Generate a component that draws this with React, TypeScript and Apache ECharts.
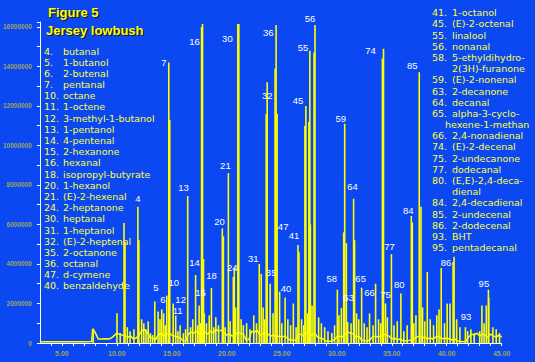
import React, { useEffect, useRef } from "react";
import * as echarts from "echarts";

// ---- data (intensities in millions of counts, times in minutes) ----
const peakTimes = [
  7.85, 10.01, 10.65, 10.74, 11.91, 12.0, 13.45, 14.08, 14.54, 14.72, 14.81, 15.12, 15.35,
  16.44, 17.16, 17.48, 17.7, 17.79, 17.88, 18.6, 19.59, 19.69, 20.14, 20.59, 20.68, 21.0, 21.09,
  22.95, 23.13, 23.58, 23.67, 23.94, 24.39, 24.48, 24.57, 24.8, 25.3, 26.47, 26.56,
  27.1, 27.19, 27.46, 27.55, 27.6, 27.93, 28.02, 30.05, 30.42, 30.63, 30.72, 30.87, 30.99,
  31.53, 31.62, 32.26, 33.53, 34.15, 34.25, 34.43, 34.97, 35.83, 36.78, 36.87, 37.5, 37.66,
  38.23, 39.5, 40.04, 40.58, 40.67, 41.7, 43.2, 43.79, 43.82,
];
const peakHeights = [
  0.7, 1.5, 6.08, 5.1, 6.9, 5.2, 2.1, 1.7, 2.4, 14.2, 11.3, 2.0, 1.4,
  7.44, 3.44, 1.9, 16.0, 16.15, 4.25, 2.78, 5.8, 5.4, 8.6, 3.34, 3.8, 16.15, 16.15,
  4.0, 3.5, 11.6, 13.2, 3.0, 13.9, 16.1, 11.6, 2.6, 2.3, 4.96, 4.6,
  11.0, 12.0, 11.2, 14.8, 6.0, 14.7, 16.1, 2.7, 1.77, 5.6, 11.1, 5.06, 1.06,
  7.3, 5.2, 2.8, 3.0, 14.4, 14.9, 2.0, 4.5, 2.5, 6.43, 6.1, 13.7, 6.9,
  3.6, 3.8, 2.0, 4.1, 4.36, 0.8, 1.9, 2.7, 2.3,
];

const minorTimes = [
  10.3, 10.95, 11.2, 11.55, 12.25, 12.45, 12.65, 12.85, 13.05, 13.25, 13.75, 13.92, 14.25, 14.4,
  15.55, 15.75, 16.05, 16.25, 16.7, 16.9, 17.35, 17.6, 17.95, 18.15, 18.4, 18.8, 19.0, 19.25,
  19.85, 20.3, 20.8, 21.3, 21.5, 21.8, 22.1, 22.45, 22.7, 23.3, 23.45, 24.2, 25.0, 25.55, 25.8,
  26.05, 26.3, 26.8, 27.0, 27.35, 27.75, 28.35, 28.6, 28.9, 29.2, 29.55, 29.8, 30.2, 31.3, 31.8,
  32.0, 32.5, 32.75, 32.98, 33.3, 33.8, 34.0, 34.6, 35.2, 35.5, 36.1, 36.4, 37.0, 37.2, 37.8,
  38.0, 38.5, 38.8, 39.1, 39.3, 39.8, 40.3, 40.9, 41.2, 41.9, 42.2, 42.5, 43.0, 43.4, 43.6,
  44.2, 44.5, 44.8,
];
const minorHeights = [
  0.5, 0.8, 0.6, 0.7, 1.2, 1.0, 0.7, 1.1, 0.5, 0.4, 1.6, 1.2, 1.5, 0.9,
  0.6, 0.9, 0.5, 0.7, 0.8, 1.2, 0.9, 1.0, 1.5, 1.0, 1.4, 0.8, 1.3, 0.9,
  0.8, 1.1, 1.8, 1.2, 0.9, 1.0, 0.7, 1.4, 1.0, 1.8, 1.2, 1.5, 1.0, 1.2, 0.9,
  2.0, 0.8, 1.2, 0.9, 1.5, 1.9, 1.3, 1.0, 0.8, 0.6, 0.5, 0.9, 1.4, 1.0, 1.5,
  1.2, 1.0, 0.8, 1.5, 0.9, 1.2, 1.0, 1.3, 0.9, 1.1, 0.6, 0.9, 1.0, 1.4, 1.8,
  1.1, 1.2, 0.9, 1.4, 1.7, 1.0, 2.0, 1.2, 0.8, 0.6, 0.7, 0.5, 0.6, 1.0, 1.9,
  0.8, 0.7, 0.5,
];

const baseTimes = [
  3.0, 4.0, 5.0, 6.0, 7.0, 7.7, 7.8, 7.9, 8.1, 8.3, 8.6, 9.0, 9.3, 9.6,
  10.0, 10.25, 10.5, 10.75, 11.0, 11.25, 11.5, 11.75, 12.0, 12.25, 12.5, 12.75, 13.0, 13.25, 13.5, 13.75,
  14.0, 14.25, 14.5, 14.75, 15.0, 15.25, 15.5, 15.75, 16.0, 16.25, 16.5, 16.75, 17.0, 17.25, 17.5, 17.75,
  18.0, 18.25, 18.5, 18.75, 19.0, 19.25, 19.5, 19.75, 20.0, 20.25, 20.5, 20.75, 21.0, 21.25, 21.5, 21.75,
  22.0, 22.25, 22.5, 22.75, 23.0, 23.25, 23.5, 23.75, 24.0, 24.25, 24.5, 24.75, 25.0, 25.25, 25.5, 25.75,
  26.0, 26.25, 26.5, 26.75, 27.0, 27.25, 27.5, 27.75, 28.0, 28.25, 28.5, 28.75, 29.0, 29.25, 29.5, 29.75,
  30.0, 30.25, 30.5, 30.75, 31.0, 31.25, 31.5, 31.75, 32.0, 32.25, 32.5, 32.75, 33.0, 33.25, 33.5, 33.75,
  34.0, 34.25, 34.5, 34.75, 35.0, 35.25, 35.5, 35.75, 36.0, 36.25, 36.5, 36.75, 37.0, 37.25, 37.5, 37.75,
  38.0, 38.25, 38.5, 38.75, 39.0, 39.25, 39.5, 39.75, 40.0, 40.25, 40.5, 40.75, 41.0, 41.25, 41.5, 41.75,
  42.0, 42.25, 42.5, 42.75, 43.0, 43.25, 43.5, 43.75, 44.0, 44.25, 44.5, 44.75, 45.0,
];
const baseValues = [
  0.06, 0.06, 0.06, 0.06, 0.06, 0.08, 0.72, 0.65, 0.45, 0.2, 0.2, 0.22, 0.2, 0.3,
  0.5, 0.45, 0.4, 0.35, 0.3, 0.35, 0.2, 0.25, 0.4, 0.6, 0.7, 0.55, 0.3, 0.25, 0.15, 0.4,
  0.5, 0.35, 0.45, 0.5, 0.4, 0.35, 0.3, 0.28, 0.12, 0.1, 0.45, 0.55, 0.5, 0.6, 0.45, 0.5,
  0.55, 0.45, 0.6, 0.5, 0.7, 0.6, 0.65, 0.5, 0.4, 0.45, 0.35, 0.4, 0.55, 0.5, 0.45, 0.15,
  0.18, 0.6, 0.55, 0.65, 0.4, 0.45, 0.5, 0.45, 0.35, 0.4, 0.3, 0.35, 0.3, 0.35, 0.25, 0.15,
  0.15, 0.12, 0.4, 0.45, 0.35, 0.5, 0.45, 0.4, 0.5, 0.3, 0.25, 0.2, 0.1, 0.08, 0.1, 0.15,
  0.3, 0.35, 0.3, 0.45, 0.55, 0.5, 0.45, 0.3, 0.35, 0.15, 0.12, 0.1, 0.15, 0.3, 0.35, 0.3,
  0.35, 0.45, 0.4, 0.35, 0.2, 0.25, 0.15, 0.2, 0.12, 0.1, 0.12, 0.15, 0.2, 0.3, 0.35, 0.25,
  0.3, 0.2, 0.25, 0.2, 0.3, 0.35, 0.25, 0.2, 0.25, 0.2, 0.15, 0.2, 0.1, 0.07, 0.06, 0.1,
  0.3, 0.45, 0.4, 0.5, 0.35, 0.45, 0.4, 0.3, 0.45, 0.35, 0.3, 0.4, 0.3,
];

// peak number labels: text, time, value (millions) of the label centre
const labelNames = [
  "4", "5", "6", "7", "10", "11", "12", "13", "14", "15", "16", "18", "20", "21", "24", "30",
  "31", "32", "35", "36", "40", "41", "45", "47", "55", "56", "58", "59", "63", "64", "65",
  "66", "74", "75", "77", "80", "84", "85", "86", "93", "95",
];
const labelTimes = [
  11.92, 13.54, 14.18, 14.27, 15.17, 15.53, 15.8, 16.07, 17.07, 17.61, 17.07, 18.61, 19.33,
  19.87, 20.5, 20.05, 22.4, 23.67, 24.03, 23.76, 25.39, 26.11, 26.47, 25.12, 26.92, 27.56,
  29.55, 30.36, 31.08, 31.44, 32.17, 32.98, 33.07, 34.43, 34.79, 35.69, 36.51, 36.87, 39.94,
  41.75, 43.38,
];
const labelValues = [
  7.29, 2.83, 2.18, 14.22, 3.04, 1.67, 2.18, 7.85, 4.1, 2.58, 15.24, 3.44, 6.13,
  9.01, 3.8, 15.44, 4.3, 12.55, 3.59, 15.74, 2.78, 5.42, 12.3, 5.92, 14.98, 16.45,
  3.29, 11.39, 2.28, 7.9, 3.29, 2.58, 14.83, 2.48, 4.91, 2.94, 6.73, 14.07, 4.05,
  1.32, 2.99,
];

// legend (compound key)
const leftNums = [
  "4.", "5.", "6.", "7.", "10.", "11.", "12.", "13.", "14.", "15.", "16.",
  "18.", "20.", "21.", "24.", "30.", "31.", "32.", "35.", "36.", "47.", "40.",
];
const leftNames = [
  "butanal", "1-butanol", "2-butenal", "pentanal", "octane", "1-octene", "3-methyl-1-butanol",
  "1-pentanol", "4-pentenal", "2-hexanone", "hexanal", "isopropyl-butyrate", "1-hexanol",
  "(E)-2-hexenal", "2-heptanone", "heptanal", "1-heptanol", "(E)-2-heptenal", "2-octanone",
  "octanal", "d-cymene", "benzaldehyde",
];
const rightNums = [
  "41.", "45.", "55.", "56.", "58.", "", "59.", "63.", "64.", "65.", "", "66.",
  "74.", "75.", "77.", "80.", "", "84.", "85.", "86.", "93.", "95.",
];
const rightNames = [
  "1-octanol", "(E)-2-octenal", "linalool", "nonanal", "5-ethyldihydro-", "2(3H)-furanone",
  "(E)-2-nonenal", "2-decanone", "decanal", "alpha-3-cyclo-", "hexene-1-methan",
  "2,4-nonadienal", "(E)-2-decenal", "2-undecanone", "dodecanal", "(E,E)-2,4-deca-", "dienal",
  "2,4-decadienal", "2-undecenal", "2-dodecenal", "BHT", "pentadecanal",
];

const titleLines = ["Figure 5", "Jersey lowbush"];

export default function App() {
  const ref = useRef<HTMLDivElement>(null);
  useEffect(() => {
    if (!ref.current) return;
    const chart = echarts.init(ref.current, null, { renderer: "svg" });
    const M = 1e6;
    const bars = peakTimes
      .map((t, i) => [t, peakHeights[i] * M])
      .concat(minorTimes.map((t, i) => [t, minorHeights[i] * M]))
      .sort((a, b) => a[0] - b[0]);
    const base = baseTimes.map((t, i) => [t, baseValues[i] * M]);
    const labels = labelNames.map((n, i) => [labelTimes[i], labelValues[i] * M, n]);

    const YEL = "#ffff00";
    const LEG = "#ffff3a";
    const legendFont = '9.5px "DejaVu Sans"';
    const step = 11.19;
    const graphics: any[] = [];
    leftNums.forEach((n, i) => {
      const y = 51 + i * step;
      graphics.push({ type: "text", x: 44, y, z: 100, style: { text: n, fill: LEG, font: legendFont, textVerticalAlign: "middle" } });
      graphics.push({ type: "text", x: 63, y, z: 100, style: { text: leftNames[i], fill: LEG, font: legendFont, textVerticalAlign: "middle" } });
    });
    rightNames.forEach((name, i) => {
      const y = 12.7 + i * step;
      if (rightNums[i]) {
        graphics.push({ type: "text", x: 432, y, z: 100, style: { text: rightNums[i], fill: LEG, font: legendFont, textVerticalAlign: "middle" } });
      }
      const x = name === "hexene-1-methan" ? 445 : 452;
      graphics.push({ type: "text", x, y, z: 100, style: { text: name, fill: LEG, font: legendFont, textVerticalAlign: "middle" } });
    });
    const titleFont = 'bold 13px "Liberation Sans", Arial, sans-serif';
    const titlePos = [
      [48, 12],
      [46, 30],
    ];
    titleLines.forEach((t, i) => {
      const [x, y] = titlePos[i];
      graphics.push({ type: "text", x: x + 1.5, y: y + 1.5, z: 100, style: { text: t, fill: "#1a1a2a", font: titleFont, textVerticalAlign: "middle" } });
      graphics.push({ type: "text", x, y, z: 101, style: { text: t, fill: YEL, font: titleFont, textVerticalAlign: "middle" } });
    });

    const axisLabelColor = "#9aa55a";
    chart.setOption({
      animation: false,
      backgroundColor: "#0b48f2",
      grid: { left: 37.4, right: 33.3, top: 22, bottom: 19, containLabel: false },
      xAxis: {
        type: "value",
        min: 3,
        max: 45,
        interval: 1,
        axisLine: { show: true, onZero: false, lineStyle: { color: "#ffffff", width: 1 } },
        axisTick: { show: true, length: 3, lineStyle: { color: "#ffffff", width: 1 } },
        splitLine: { show: false },
        axisLabel: {
          color: axisLabelColor,
          fontSize: 7,
          fontWeight: "bold",
          fontFamily: '"Liberation Sans", Arial, sans-serif',
          margin: 7,
          showMinLabel: false,
          formatter: (v: number) => (Math.abs(v % 5) < 1e-9 ? v.toFixed(2) : ""),
        },
      },
      yAxis: {
        type: "value",
        min: 0,
        max: 16.25 * M,
        interval: 1 * M,
        axisLine: { show: true, lineStyle: { color: "#ffffff", width: 1 } },
        axisTick: { show: true, length: 3, lineStyle: { color: "#ffffff", width: 1 } },
        splitLine: { show: false },
        axisLabel: {
          color: axisLabelColor,
          fontSize: 6.5,
          fontWeight: "bold",
          fontFamily: '"Liberation Sans", Arial, sans-serif',
          margin: 8,
          formatter: (v: number) => {
            const r = Math.round(v);
            return r % (2 * M) === 0 ? String(r) : "";
          },
        },
      },
      series: [
        {
          type: "line",
          data: base,
          symbol: "none",
          lineStyle: { color: YEL, width: 1.5 },
          silent: true,
          z: 2,
        },
        {
          type: "bar",
          data: bars,
          barWidth: 1.6,
          itemStyle: { color: YEL },
          silent: true,
          z: 3,
        },
        {
          type: "scatter",
          data: labels,
          symbolSize: 1,
          itemStyle: { color: "rgba(0,0,0,0)" },
          clip: false,
          silent: true,
          z: 5,
          label: {
            show: true,
            position: "inside",
            color: "#ffffff",
            opacity: 1,
            fontSize: 9.5,
            fontFamily: '"Liberation Sans", Arial, sans-serif',
            formatter: (p: any) => p.data[2],
          },
          labelLayout: { hideOverlap: false },
        },
      ],
      graphic: graphics,
    });
    return () => chart.dispose();
  }, []);
  return <div ref={ref} style={{ position: "fixed", left: 0, top: 0, width: 535, height: 362 }} />;
}
